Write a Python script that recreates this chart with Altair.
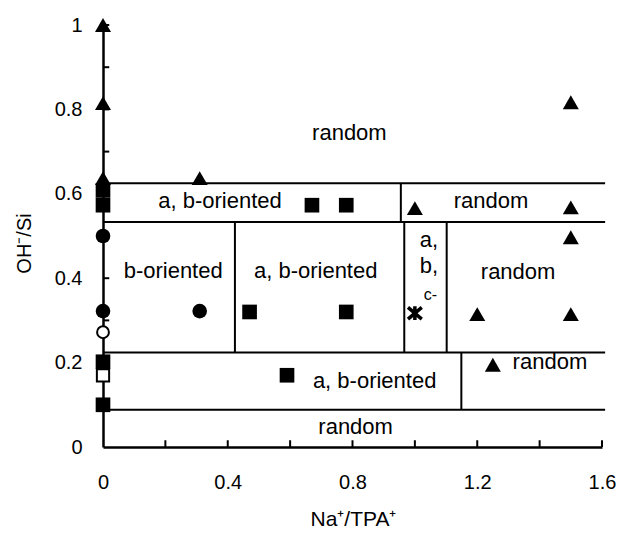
import altair as alt
import pandas as pd

FONT = "Liberation Sans"

# filled triangles
tri_x = [0, 0, 0, 0.31, 1.0, 1.5, 1.5, 1.5, 1.2, 1.5, 1.25]
tri_y = [1.0, 0.815, 0.637, 0.637, 0.566, 0.817, 0.568, 0.497, 0.315, 0.315, 0.195]
# filled squares
sq_x = [0, 0, 0.67, 0.78, 0.47, 0.78, 0.59, 0, 0]
sq_y = [0.608, 0.573, 0.573, 0.573, 0.32, 0.32, 0.17, 0.202, 0.10]
# open squares
osq_x = [0]
osq_y = [0.17]
# filled circles
ci_x = [0, 0, 0.31]
ci_y = [0.50, 0.322, 0.322]
# open circles
oci_x = [0]
oci_y = [0.272]
# asterisk
ast_x = [1.0]
ast_y = [0.317]

# region boundaries
h_y = [0.625, 0.533, 0.224, 0.088]
h_x1 = [0, 0, 0, 0]
h_x2 = [1.61, 1.61, 1.61, 1.61]
v_x = [0.955, 0.423, 0.966, 1.102, 1.149]
v_y1 = [0.533, 0.224, 0.224, 0.224, 0.088]
v_y2 = [0.625, 0.533, 0.533, 0.533, 0.224]

# region labels
lab_text = ["random", "a, b-oriented", "random", "b-oriented", "a, b-oriented",
            "a,", "b,", "random", "a, b-oriented", "random", "random"]
lab_x = [0.79, 0.375, 1.244, 0.225, 0.682, 1.045, 1.045, 1.331, 0.871, 1.433, 0.81]
lab_y = [0.743, 0.584, 0.584, 0.418, 0.418, 0.49, 0.428, 0.415, 0.157, 0.202, 0.048]
small_text = ["c-"]
small_x = [1.05]
small_y = [0.36]

x_tick_vals = [0, 0.4, 0.8, 1.2, 1.6]
y_tick_vals = [0, 0.2, 0.4, 0.6, 0.8, 1.0]
x_minor = [0.2, 0.4, 0.6, 0.8, 1.0, 1.2, 1.4, 1.6]
y_minor = [0.1, 0.2, 0.3, 0.4, 0.5, 0.6, 0.7, 0.8, 0.9, 1.0]

xs = alt.Scale(domain=[0, 1.6], nice=False, zero=False)
ys = alt.Scale(domain=[0, 1], nice=False, zero=False)

x_axis = alt.Axis(values=x_tick_vals, format="~g", grid=False, ticks=False, tickSize=0,
                  domainColor="black", domainWidth=2.5, labelFlush=False,
                  labelFont=FONT, labelFontSize=20, labelColor="black",
                  labelBaseline="alphabetic", labelPadding=41,
                  title="Na⁺/TPA⁺", titleFont=FONT, titleFontSize=21,
                  titleFontWeight="normal", titleColor="black",
                  titleBaseline="alphabetic", titleY=78, titleX=250)
y_axis = alt.Axis(values=y_tick_vals, format="~g", grid=False, ticks=False, tickSize=0,
                  domainColor="black", domainWidth=2.5, labelFlush=False,
                  labelFont=FONT, labelFontSize=20, labelColor="black",
                  labelPadding=21,
                  title="OH⁻/Si", titleFont=FONT, titleFontSize=20,
                  titleFontWeight="normal", titleColor="black",
                  titleAngle=270, titleBaseline="middle", titleAlign="center",
                  titleX=-79, titleY=218)

X = alt.X("x:Q", scale=xs, axis=x_axis)
Y = alt.Y("y:Q", scale=ys, axis=y_axis)

def df(xv, yv):
    return pd.DataFrame({"x": xv, "y": yv})

hlines = alt.Chart(pd.DataFrame({"x": h_x1, "x2": h_x2, "y": h_y})).mark_rule(
    color="black", strokeWidth=2).encode(x=X, x2="x2:Q", y=Y)
vlines = alt.Chart(pd.DataFrame({"x": v_x, "y": v_y1, "y2": v_y2})).mark_rule(
    color="black", strokeWidth=2).encode(x=X, y=Y, y2="y2:Q")

xticks = alt.Chart(pd.DataFrame({"x": x_minor})).mark_rule(
    color="black", strokeWidth=2).encode(x=X, y=alt.datum(0), y2=alt.datum(0.016))
yticks = alt.Chart(pd.DataFrame({"y": y_minor})).mark_rule(
    color="black", strokeWidth=2).encode(y=Y, x=alt.datum(0), x2=alt.datum(0.02))

tris = alt.Chart(df(tri_x, tri_y)).mark_point(
    shape="triangle-up", filled=True, color="black", size=256, opacity=1).encode(x=X, y=Y)
sqs = alt.Chart(df(sq_x, sq_y)).mark_point(
    shape="square", filled=True, color="black", size=215, opacity=1).encode(x=X, y=Y)
osqs = alt.Chart(df(osq_x, osq_y)).mark_point(
    shape="square", filled=True, fill="white", stroke="black", strokeWidth=2,
    size=150, opacity=1).encode(x=X, y=Y)
cis = alt.Chart(df(ci_x, ci_y)).mark_point(
    shape="circle", filled=True, color="black", size=215, opacity=1).encode(x=X, y=Y)
ocis = alt.Chart(df(oci_x, oci_y)).mark_point(
    shape="circle", filled=True, fill="white", stroke="black", strokeWidth=2,
    size=140, opacity=1).encode(x=X, y=Y)
ast = alt.Chart(df(ast_x, ast_y)).mark_point(
    shape="M-1,-0.85L1,0.85M-1,0.85L1,-0.85M0,-1L0,1", filled=False, color="black",
    strokeWidth=3.5, size=190, opacity=1).encode(x=X, y=Y)

labels = alt.Chart(pd.DataFrame({"x": lab_x, "y": lab_y, "t": lab_text})).mark_text(
    font=FONT, fontSize=22, color="black", align="center", baseline="middle").encode(
    x=X, y=Y, text="t:N")
small = alt.Chart(pd.DataFrame({"x": small_x, "y": small_y, "t": small_text})).mark_text(
    font=FONT, fontSize=16, color="black", align="center", baseline="middle").encode(
    x=X, y=Y, text="t:N")

chart = alt.layer(hlines, vlines, xticks, yticks, tris, sqs, osqs, cis, ocis, ast,
                  labels, small).properties(
    width=499, height=422,
    autosize=alt.AutoSizeParams(type="none"),
    padding={"left": 95, "top": 17, "right": 14, "bottom": 85},
    background="white",
).configure_view(stroke=None)

chart.save("out.html", embed_options={"renderer": "svg", "actions": False})
